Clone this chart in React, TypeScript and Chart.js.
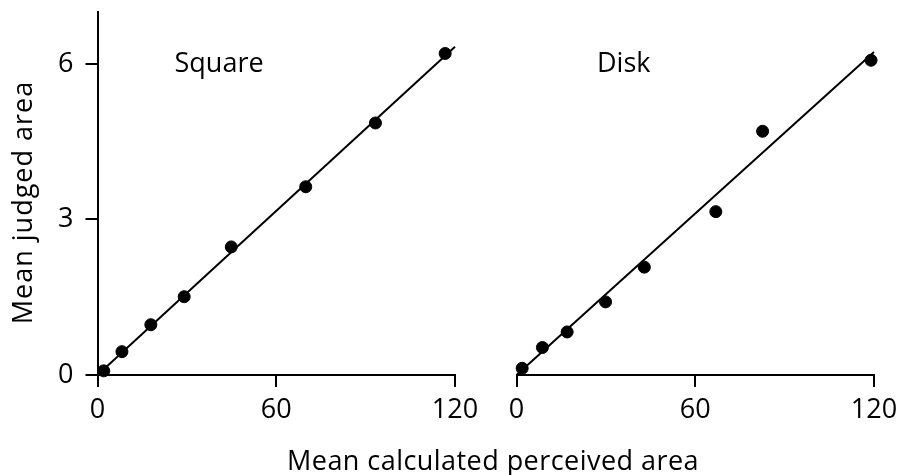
import React, { useEffect, useRef } from "react";
import { Chart, registerables } from "chart.js";

Chart.register(...registerables);

// ---- data ----
const xTicks = [0, 60, 120];
const yTicks = [0, 3, 6];
const xRange = [0, 120];
const yRange = [0, 7];

const squareX = [2.1, 8.2, 17.9, 29.1, 44.9, 69.9, 93.3, 116.7];
const squareY = [0.08, 0.45, 0.97, 1.51, 2.47, 3.63, 4.86, 6.2];
const diskX = [1.9, 8.7, 17.0, 29.9, 42.9, 66.9, 82.6, 119.0];
const diskY = [0.13, 0.53, 0.83, 1.41, 2.08, 3.15, 4.7, 6.07];

const fitX = [0, 120];
const squareFitY = [0, 6.33];
const diskFitY = [0, 6.23];

const panelNames = ["Square", "Disk"];
const panelLabelX = [40.8, 36.0];
const panelLabelY = [5.85, 5.85];

const xTitle = "Mean calculated perceived area";
const yTitle = "Mean judged area";

const FONT = '"Open Sans", sans-serif';
const FS = 27;

function pts(xs: number[], ys: number[]) {
  return xs.map((x, i) => ({ x, y: ys[i] }));
}

type PanelOpts = {
  name: string;
  labelX: number;
  labelY: number;
  xs: number[];
  ys: number[];
  fitY: number[];
  showY: boolean;
  padding: { left: number; right: number; top: number; bottom: number };
  yWidth: number;
  drawTitles: "y" | "x";
};

function makePanel(canvas: HTMLCanvasElement, o: PanelOpts) {
  const textPlugin = {
    id: "panelText" + o.name,
    afterDraw(chart: any) {
      const ctx = chart.ctx as any;
      const xs = chart.scales.x;
      const ys = chart.scales.y;
      ctx.save();
      ctx.fillStyle = "#000";
      ctx.font = `${FS}px ${FONT}`;
      ctx.textAlign = "center";
      ctx.textBaseline = "alphabetic";
      ctx.fillText(o.name, xs.getPixelForValue(o.labelX), ys.getPixelForValue(o.labelY));
      if (o.drawTitles === "y") {
        ctx.letterSpacing = "1px";
        ctx.translate(31.5, (ys.top + ys.bottom) / 2 + 9);
        ctx.rotate(-Math.PI / 2);
        ctx.fillText(yTitle, 0, 0);
      } else {
        ctx.letterSpacing = "0.45px";
        ctx.fillText(xTitle, 493, 470);
      }
      ctx.restore();
    },
  };

  return new Chart(canvas, {
    type: "scatter",
    data: {
      datasets: [
        {
          type: "line",
          data: pts(fitX, o.fitY),
          borderColor: "#000",
          borderWidth: 2,
          pointRadius: 0,
          showLine: true,
          fill: false,
          clip: false,
        } as any,
        {
          data: pts(o.xs, o.ys),
          backgroundColor: "#000",
          borderColor: "#000",
          pointRadius: 6,
          pointBorderWidth: 1,
          showLine: false,
          clip: false,
        } as any,
      ],
    },
    options: {
      animation: false,
      responsive: false,
      devicePixelRatio: 1,
      layout: { padding: o.padding },
      plugins: {
        legend: { display: false },
        tooltip: { enabled: false },
        title: { display: false },
      },
      events: [],
      scales: {
        x: {
          type: "linear",
          min: xRange[0],
          max: xRange[1],
          afterBuildTicks: (s: any) => {
            s.ticks = xTicks.map((v) => ({ value: v }));
          },
          afterFit: (s: any) => {
            s.height = 100;
            s.paddingLeft = 0;
            s.paddingRight = 0;
          },
          grid: {
            drawOnChartArea: false,
            drawTicks: true,
            tickLength: 12,
            color: "#000",
            lineWidth: 2,
          },
          border: { display: true, color: "#000", width: 2 },
          ticks: {
            color: "#000",
            font: { family: FONT, size: FS },
            padding: 7,
            maxRotation: 0,
            autoSkip: false,
          },
        },
        y: {
          type: "linear",
          display: o.showY,
          min: yRange[0],
          max: yRange[1],
          afterBuildTicks: (s: any) => {
            s.ticks = yTicks.map((v) => ({ value: v }));
          },
          afterFit: (s: any) => {
            s.width = o.yWidth;
            s.paddingTop = 0;
            s.paddingBottom = 0;
          },
          grid: {
            drawOnChartArea: false,
            drawTicks: true,
            tickLength: 12,
            color: "#000",
            lineWidth: 2,
          },
          border: { display: true, color: "#000", width: 2 },
          ticks: {
            color: "#000",
            font: { family: FONT, size: FS },
            padding: 12,
            autoSkip: false,
          },
        },
      },
    } as any,
    plugins: [textPlugin],
  });
}

export default function App() {
  const leftRef = useRef<HTMLCanvasElement | null>(null);
  const rightRef = useRef<HTMLCanvasElement | null>(null);

  useEffect(() => {
    const left = makePanel(leftRef.current!, {
      name: panelNames[0],
      labelX: panelLabelX[0],
      labelY: panelLabelY[0],
      xs: squareX,
      ys: squareY,
      fitY: squareFitY,
      showY: true,
      padding: { left: 0, right: 445, top: 12, bottom: 0 },
      yWidth: 97.5,
      drawTitles: "y",
    });
    const right = makePanel(rightRef.current!, {
      name: panelNames[1],
      labelX: panelLabelX[1],
      labelY: panelLabelY[1],
      xs: diskX,
      ys: diskY,
      fitY: diskFitY,
      showY: false,
      padding: { left: 516.5, right: 26, top: 12, bottom: 0 },
      yWidth: 0,
      drawTitles: "x",
    });
    return () => {
      left.destroy();
      right.destroy();
    };
  }, []);

  const cs: React.CSSProperties = { position: "absolute", left: 0, top: 0 };
  return (
    <div style={{ position: "absolute", left: 0, top: 0, width: 900, height: 475, background: "#fff" }}>
      <canvas ref={leftRef} width={900} height={475} style={cs} />
      <canvas ref={rightRef} width={900} height={475} style={cs} />
    </div>
  );
}
